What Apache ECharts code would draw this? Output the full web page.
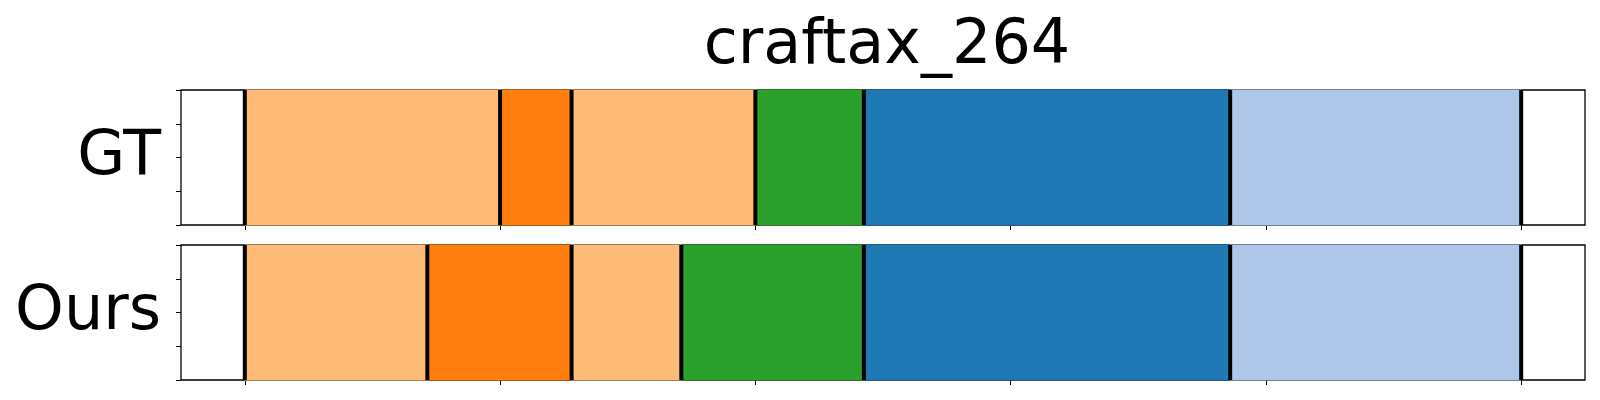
<!DOCTYPE html>
<html>
<head>
<meta charset="utf-8">
<script src="https://cdn.jsdelivr.net/npm/echarts@6/dist/echarts.min.js"></script>
<style>html,body{margin:0;padding:0;background:#fff}#c{width:1600px;height:400px}</style>
</head>
<body>
<div id="c"></div>
<script>
const titleText = 'craftax_264';
const rowLabels = ['GT', 'Ours'];
// segment boundaries (fraction of episode, 0..100)
const gtBoundaries = [0, 20.0, 25.6, 40.0, 48.5, 77.2, 100];
const oursBoundaries = [0, 14.3, 25.6, 34.2, 48.5, 77.2, 100];
// class of each segment (index into classColors)
const gtClasses = [0, 1, 0, 2, 3, 4];
const oursClasses = [0, 1, 0, 2, 3, 4];
const classColors = ['#ffbb78', '#ff7f0e', '#2ca02c', '#1f77b4', '#aec7e8'];
const xTicks = [0, 20, 40, 60, 80, 100];
const yTicks = [0, 0.25, 0.5, 0.75, 1];

const FONT = 'DejaVu Sans';
const rows = [gtBoundaries, oursBoundaries];
const rowClasses = [gtClasses, oursClasses];

const grids = [
  {left: 181, top: 90, width: 1404, height: 135},
  {left: 181, top: 245, width: 1404, height: 135}
];

const option = {
  animation: false,
  backgroundColor: '#fff',
  title: {
    text: titleText, left: 882, top: 11, textAlign: 'center',
    textStyle: {fontFamily: FONT, fontSize: 62, fontWeight: 'normal', color: '#000'}
  },
  grid: grids.map(g => Object.assign({show: true, borderColor: '#000', borderWidth: 1.3, backgroundColor: 'transparent'}, g)),
  xAxis: grids.map((g, i) => ({
    type: 'value', gridIndex: i, min: -5, max: 105,
    axisLine: {show: false, onZero: false}, splitLine: {show: false},
    axisLabel: {show: false},
    axisTick: {show: true, length: 5, lineStyle: {color: '#000', width: 1}, customValues: xTicks}
  })),
  yAxis: grids.map((g, i) => ({
    type: 'value', gridIndex: i, min: 0, max: 1, interval: 0.25,
    axisLine: {show: false, onZero: false}, splitLine: {show: false},
    axisLabel: {show: false},
    axisTick: {show: true, length: 5, lineStyle: {color: '#000', width: 1}, customValues: yTicks},
    name: rowLabels[i], nameLocation: 'middle', nameRotate: 0, nameGap: 20,
    nameTextStyle: {fontFamily: FONT, fontSize: 62, color: '#000', align: 'right', verticalAlign: 'middle', padding: [0, 0, 12, 0]}
  })),
  series: []
};

rows.forEach((b, i) => {
  const segs = [];
  for (let k = 0; k < b.length - 1; k++) segs.push([b[k], b[k + 1], rowClasses[i][k]]);
  option.series.push({
    type: 'custom', xAxisIndex: i, yAxisIndex: i, data: segs,
    renderItem: (params, api) => {
      const p0 = api.coord([api.value(0), 1]);
      const p1 = api.coord([api.value(1), 0]);
      const c = classColors[api.value(2)];
      return {type: 'rect', shape: {x: p0[0], y: p0[1], width: p1[0] - p0[0], height: p1[1] - p0[1]},
        style: {fill: c, stroke: c, lineWidth: 1}};
    }
  });
  option.series.push({
    type: 'custom', xAxisIndex: i, yAxisIndex: i, data: b.map(v => [v]), z: 5,
    renderItem: (params, api) => {
      const p0 = api.coord([api.value(0), 1]);
      const p1 = api.coord([api.value(0), 0]);
      return {type: 'line', shape: {x1: p0[0], y1: p0[1], x2: p1[0], y2: p1[1]},
        style: {stroke: '#000', lineWidth: 4}};
    }
  });
});

const chart = echarts.init(document.getElementById('c'), null, {renderer: 'canvas'});
chart.setOption(option);
</script>
</body>
</html>
